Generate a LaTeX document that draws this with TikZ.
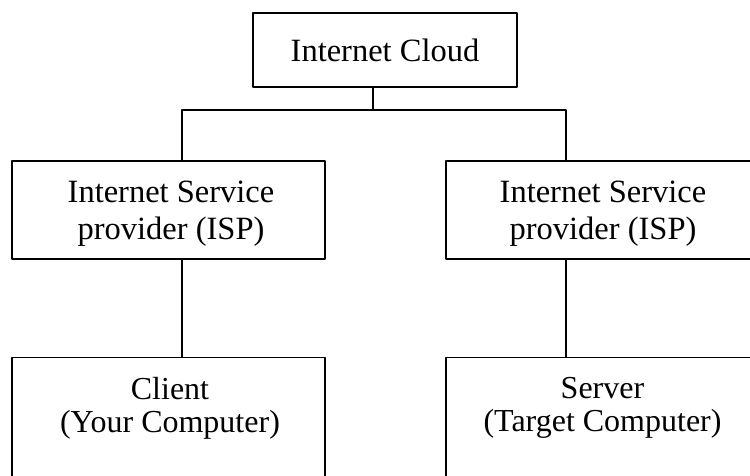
\documentclass[tikz,border=0pt]{standalone}
\usepackage{fontspec}
\setmainfont{Liberation Serif}
\tikzset{
  box/.style={draw, line width=1.2pt, minimum width=313pt, inner sep=0pt},
  txt/.style={align=center, inner sep=0pt, font=\fontsize{32.5}{37}\selectfont},
  lowtxt/.style={align=center, inner sep=0pt, font=\fontsize{32}{33}\selectfont},
  link/.style={line width=1.2pt}
}
\begin{document}
\begin{tikzpicture}[line cap=round,line join=round,x=1pt,y=-1pt]
\useasboundingbox (0,0) rectangle (750,475);
\clip (0,0) rectangle (750,475);
% top box
\node[box, txt, minimum width=264pt, minimum height=74pt] (cloud) at (385,50) {Internet Cloud};
% providers
\node[box, minimum height=98pt] (ispl) at (168.5,210) {};
\node[box, minimum height=98pt] (ispr) at (602.5,210) {};
\node[txt] (ispllbl) at (171,214) {Internet Service\\provider (ISP)};
\node[txt] (isprlbl) at (603,214) {Internet Service\\provider (ISP)};
% end computers (cut off at the bottom)
\node[box, minimum height=150pt, anchor=north] (client) at (168.5,357) {};
\node[box, minimum height=150pt, anchor=north] (server) at (602.5,357) {};
\node[lowtxt] (clientlbl) at (170,408) {Client\\(Your Computer)};
\node[lowtxt] (serverlbl) at (602.5,408) {Server\\(Target Computer)};
% joints
\coordinate (mjn) at (373,110);
\coordinate (ljn) at (182,110);
\coordinate (rjn) at (566,110);
\draw[link] (cloud.south -| mjn) -- (mjn);
\draw[link] (ispl.north -| ljn) |- (rjn) -- (ispr.north -| rjn);
\draw[link] (ispl.south -| ljn) -- (client.north -| ljn);
\draw[link] (ispr.south -| rjn) -- (server.north -| rjn);
\end{tikzpicture}
\end{document}
